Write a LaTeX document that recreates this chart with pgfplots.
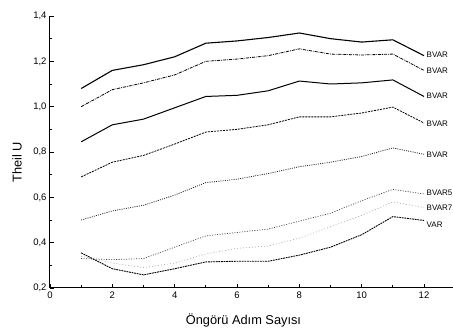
\documentclass[border=0pt]{standalone}
\usepackage{fontspec}
\setmainfont{Liberation Sans}
\usepackage{pgfplots}
\pgfplotsset{compat=1.18}
\begin{document}
\begin{tikzpicture}
\begin{axis}[
  scale only axis, width=403pt, height=272pt,
  xmin=0, xmax=12.93, ymin=0.2, ymax=1.4,
  axis lines=left, axis line style={-, line width=1pt},
  tick align=inside, major tick length=4pt, minor tick length=2.5pt,
  tick style={line width=0.9pt, black},
  xtick={0,2,4,6,8,10,12}, xticklabels={0,2,4,6,8,10,12},
  ytick={0.2,0.4,0.6,0.8,1.0,1.2,1.4},
  yticklabels={{0,2},{0,4},{0,6},{0,8},{1,0},{1,2},{1,4}},
  minor x tick num=1, minor y tick num=1,
  ticklabel style={font=\fontsize{9.5}{11}\selectfont},
  xlabel={Öngörü Adım Sayısı}, ylabel={Theil U},
  xlabel style={font=\fontsize{12.8}{14}\selectfont, at={(axis description cs:0.48,-0.118)}, anchor=center},
  ylabel style={font=\fontsize{12.8}{14}\selectfont, at={(axis description cs:-0.082,0.463)}, anchor=center},
  clip=false,
]
\addplot[black, line width=1.1pt] coordinates {(1,1.08)(2,1.16)(3,1.185)(4,1.22)(5,1.28)(6,1.29)(7,1.305)(8,1.325)(9,1.30)(10,1.285)(11,1.295)(12,1.225)};
\addplot[black, line width=0.8pt, dash pattern=on 3pt off 1pt on 0.8pt off 1pt] coordinates {(1,1.00)(2,1.075)(3,1.105)(4,1.14)(5,1.20)(6,1.21)(7,1.225)(8,1.255)(9,1.232)(10,1.228)(11,1.232)(12,1.16)};
\addplot[black, line width=1pt] coordinates {(1,0.845)(2,0.92)(3,0.945)(4,0.995)(5,1.045)(6,1.05)(7,1.07)(8,1.113)(9,1.10)(10,1.105)(11,1.118)(12,1.045)};
\addplot[black, line width=0.8pt, dash pattern=on 2pt off 1pt] coordinates {(1,0.69)(2,0.755)(3,0.785)(4,0.835)(5,0.888)(6,0.90)(7,0.92)(8,0.955)(9,0.955)(10,0.972)(11,0.998)(12,0.928)};
\addplot[black!85, line width=0.8pt, dash pattern=on 1pt off 1.2pt] coordinates {(1,0.50)(2,0.54)(3,0.565)(4,0.61)(5,0.665)(6,0.68)(7,0.705)(8,0.735)(9,0.755)(10,0.78)(11,0.818)(12,0.79)};
\addplot[black!75, line width=0.7pt, dash pattern=on 1pt off 1.5pt] coordinates {(1,0.33)(2,0.325)(3,0.33)(4,0.38)(5,0.43)(6,0.445)(7,0.46)(8,0.495)(9,0.53)(10,0.585)(11,0.635)(12,0.615)};
\addplot[black!35, line width=0.6pt, dash pattern=on 1pt off 2pt] coordinates {(1,0.34)(2,0.31)(3,0.29)(4,0.31)(5,0.35)(6,0.375)(7,0.385)(8,0.42)(9,0.47)(10,0.52)(11,0.58)(12,0.555)};
\addplot[black, line width=0.9pt, dash pattern=on 1.8pt off 0.8pt] coordinates {(1,0.355)(2,0.285)(3,0.258)(4,0.285)(5,0.315)(6,0.318)(7,0.318)(8,0.345)(9,0.38)(10,0.435)(11,0.515)(12,0.498)};
\begin{scope}[every node/.style={anchor=west, font=\fontsize{8}{9}\selectfont, inner sep=0pt, xshift=2.5pt}]
\node at (axis cs:12,1.227) {BVAR};
\node at (axis cs:12,1.157) {BVAR};
\node at (axis cs:12,1.047) {BVAR};
\node at (axis cs:12,0.925) {BVAR};
\node at (axis cs:12,0.79) {BVAR};
\node at (axis cs:12,0.62) {BVAR5};
\node at (axis cs:12,0.553) {BVAR7};
\node at (axis cs:12,0.478) {VAR};
\end{scope}
\coordinate (SW) at (rel axis cs:0,0);
\coordinate (NE) at (rel axis cs:1,1);
\end{axis}
\pgfresetboundingbox
\path[use as bounding box] ([shift={(-50pt,-41pt)}]SW) rectangle ([shift={(0pt,16pt)}]NE);
\end{tikzpicture}
\end{document}
